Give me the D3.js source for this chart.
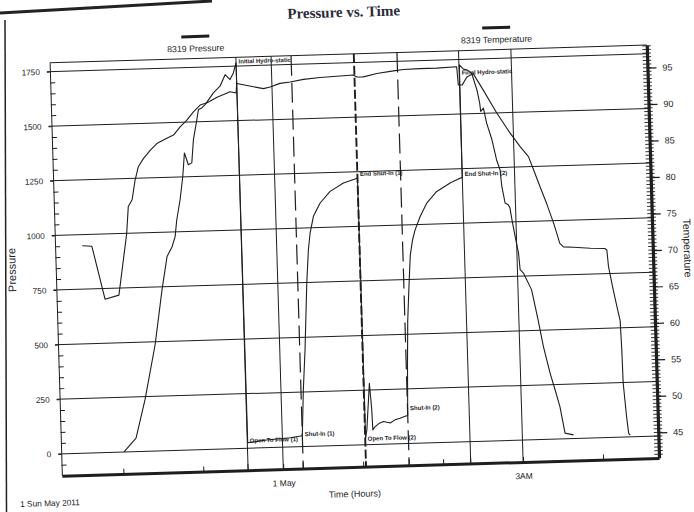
<!DOCTYPE html>
<html><head><meta charset="utf-8">
<script src="https://cdn.jsdelivr.net/npm/d3@7"></script>
<style>
html,body{margin:0;padding:0;background:#fff;}
svg{display:block;}
text{font-family:"Liberation Sans",Arial,sans-serif;fill:#1e1e1e;}
</style></head><body>
<svg id="chart" width="694" height="512"></svg>
<script>
// ---------- data (hours relative to midnight, 1 May 2011) ----------
const timeDomainHours = [-2.77, 4.70];
const pressureDomain = [-100, 1790];
const temperatureDomain = [41.5, 98.1];

const pressureHours = [-1.984,-1.829,-1.7025,-1.556,-1.449,-1.374,-1.3075,-1.266,-1.239,-1.19,-1.1475,-1.119,-1.074,-1.03,-1.001,-0.951,-0.9275,-0.885,-0.8425,-0.734,-0.649,-0.581,-0.521,-0.4775,-0.44,
  -0.435,-0.2,0.1,0.25,0.28,0.316,0.3625,0.395,0.4225,0.47,0.559,0.6875,0.8575,1.005,1.035,
  1.04,1.059,1.1075,1.1275,1.134,1.164,1.219,1.27,1.354,1.415,1.479,1.5325,1.575,
  1.59,1.61,1.635,1.666,1.7,1.735,1.804,1.891,2.021,2.191,2.295,2.345,
  2.35,2.40,2.45,2.50,2.56,2.59,2.60,2.635,2.67,2.73,2.78,2.82,2.836,2.871,2.91,2.93,2.95,2.984,3.02,3.034,3.074,3.17,3.24,3.296,3.37,3.426,3.48,3.535,3.64];
const pressureValues = [0,62,236,486,737,888,932,978,1055,1146,1253,1359,1305,1313,1419,1510,1556,1563,1578,1630,1660,1712,1689,1719,1765,
  25,35,42,50,260,443,748,900,976,1052,1112,1164,1200,1217,1222,
  30,68,281,159,67,82,97,104,96,110,117,124,128,
  350,560,700,860,930,975,1037,1097,1149,1186,1203,1210,
  1725,1705,1700,1686,1609,1548,1509,1524,1455,1378,1286,1240,1163,1087,1079,1063,1010,933,856,780,764,686,548,426,303,226,149,26,17];

const temperatureHours = [-2.43,-2.31,-2.165,-1.99,-1.87,-1.84,-1.79,-1.745,-1.70,-1.634,-1.546,-1.46,-1.334,-1.249,-1.1625,-1.076,-0.991,-0.905,-0.816,-0.69,-0.525,-0.45,
  -0.44,-0.356,-0.2325,-0.1075,-0.024,0.1025,0.229,0.396,0.605,0.815,1.0225,1.064,1.146,1.315,1.524,1.65,1.856,2.065,2.316,
  2.33,2.38,2.44,2.52,2.64,2.80,2.96,3.08,3.18,3.24,3.315,3.39,3.47,3.54,3.584,3.71,3.92,4.10,4.125,4.14,4.19,4.246,4.265,4.275,4.28,4.31,4.33,4.35];
const temperatureValues = [72.9,72.8,65.5,66.0,74.4,78.1,79.0,81.7,83.5,84.6,85.7,86.6,87.3,87.7,88.8,89.7,90.8,91.7,92.0,92.7,93.4,93.2,
  94.5,94.3,94.0,93.7,93.9,94.35,94.5,94.8,95.0,95.1,95.2,94.9,94.9,95.3,95.6,95.75,95.8,95.8,95.9,
  93.4,93.4,94.45,94.9,92.6,89.4,86.6,84.7,83.3,81.45,79.1,76.8,74.1,71.3,70.8,70.7,70.5,70.4,70.2,67.9,64.7,61.5,60.5,56.4,51.9,47.3,45.0,44.75];

const markerHours = [-0.44, 0.25, 1.035, 1.575, 2.345];
const labelTexts = ["Initial Hydro-static","Open To Flow (1)","Shut-In (1)","End Shut-In (1)","Open To Flow (2)","Shut-In (2)","End Shut-In (2)","Final Hydro-static"];
const labelHours = [-0.44,-0.44,0.25,1.035,1.035,1.575,2.345,2.345];
const labelPressures = [1771,35,57,1240,28,162,1225,1689];

const pressureTicks = [0,250,500,750,1000,1250,1500,1750];
const temperatureTicks = [45,50,55,60,65,70,75,80,85,90,95];
const hourTicks = [-2,-1,0,1,2,3,4];
const gridHours = [0,3];
const xLabelHours = [0,3];
const xLabelTexts = ["1 May","3AM"];
const seriesNames = ["8319 Pressure","8319 Temperature"];
const titleText = "Pressure vs. Time";
const xTitle = "Time (Hours)";
const leftTitle = "Pressure";
const rightTitle = "Temperature";
const footerText = "1 Sun May 2011";

// ---------- drawing ----------
const ink = "#1e1e1e";
const sans = "'Liberation Sans', Arial, sans-serif";
const svg = d3.select("#chart");
svg.append("rect").attr("width",694).attr("height",512).attr("fill","#fff");
// scanned paper edges
svg.append("line").attr("x1",0).attr("y1",13).attr("x2",212).attr("y2",1).attr("stroke","#222").attr("stroke-width",3);
svg.append("line").attr("x1",5).attr("y1",20).attr("x2",6.5).attr("y2",512).attr("stroke","#222").attr("stroke-width",1.5);

const g = svg.append("g").attr("transform","rotate(-1.7,350,260)");
const P = {left:55.6, right:653, top:54, bottom:467};
const base = new Date(2011,4,1,0,0,0);
const toDate = h => new Date(base.getTime() + h*3600000);

const x = d3.scaleTime().domain(timeDomainHours.map(toDate)).range([P.left,P.right]);
const yP = d3.scaleLinear().domain(pressureDomain).range([P.bottom,P.top]);
const yT = d3.scaleLinear().domain(temperatureDomain).range([P.bottom,P.top]);

// horizontal grid
g.append("g").selectAll("line").data(pressureTicks).join("line")
  .attr("x1",P.left-3).attr("x2",P.right).attr("y1",d=>yP(d)).attr("y2",d=>yP(d))
  .attr("stroke",ink).attr("stroke-width",1);
// vertical grid
g.append("g").selectAll("line").data(gridHours).join("line")
  .attr("x1",d=>x(toDate(d))).attr("x2",d=>x(toDate(d))).attr("y1",P.top).attr("y2",P.bottom)
  .attr("stroke",ink).attr("stroke-width",1);

// event markers
const markerDash = ["none","20,7","9,3","20,7","none"];
const markerWidth = [1,1.2,1.9,1.2,1];
g.append("g").selectAll("line").data(markerHours).join("line")
  .attr("x1",d=>x(toDate(d))).attr("x2",d=>x(toDate(d))).attr("y1",P.top).attr("y2",P.bottom)
  .attr("stroke",ink).attr("stroke-width",(d,i)=>markerWidth[i]).attr("stroke-dasharray",(d,i)=>markerDash[i]);

// top border
g.append("line").attr("x1",P.left).attr("x2",P.right).attr("y1",P.top).attr("y2",P.top).attr("stroke",ink).attr("stroke-width",1);

// left axis
const leftAxis = d3.axisLeft(yP).tickValues(pressureTicks).tickSizeInner(3).tickSizeOuter(0).tickPadding(7).tickFormat(d3.format("d"));
const la = g.append("g").attr("transform",`translate(${P.left},0)`).call(leftAxis);
la.select(".domain").attr("stroke",ink).attr("stroke-width",1);
la.selectAll(".tick line").attr("stroke",ink);
la.selectAll("text").attr("font-size",8.2).style("fill",ink).style("font-family",sans);
const minorP = d3.range(-50,1800,50).filter(v=>v%250!==0);
const lm = g.append("g").attr("transform",`translate(${P.left},0)`)
  .call(d3.axisLeft(yP).tickValues(minorP).tickSize(-5).tickFormat(""));
lm.select(".domain").remove();
lm.selectAll(".tick line").attr("stroke",ink);

// right axis
const rightAxis = d3.axisRight(yT).tickValues(temperatureTicks).tickSizeInner(9).tickSizeOuter(0).tickPadding(6);
const ra = g.append("g").attr("transform",`translate(${P.right},0)`).call(rightAxis);
ra.select(".domain").attr("stroke",ink).attr("stroke-width",3.2);
ra.selectAll(".tick line").attr("stroke",ink).attr("stroke-width",1.2);
ra.selectAll("text").attr("font-size",9).style("fill",ink).style("font-family",sans);
const minorT = d3.range(42,98.01,0.5);
g.append("g").selectAll("line").data(minorT).join("line")
  .attr("x1",P.right-4.5).attr("x2",P.right+4).attr("y1",d=>yT(d)).attr("y2",d=>yT(d))
  .attr("stroke",ink).attr("stroke-width",0.9);

// bottom axis
const bottomAxis = d3.axisBottom(x).tickValues(hourTicks.map(toDate)).tickSizeInner(-5).tickSizeOuter(0).tickPadding(11)
  .tickFormat(d=>{const h=(d-base)/3600000; const i=xLabelHours.indexOf(Math.round(h)); return i>=0?xLabelTexts[i]:"";});
const ba = g.append("g").attr("transform",`translate(0,${P.bottom})`).call(bottomAxis);
ba.select(".domain").attr("stroke",ink).attr("stroke-width",3);
ba.selectAll(".tick line").attr("stroke",ink);
ba.selectAll("text").attr("font-size",8.5).style("fill",ink).style("font-family",sans);
// bottom ticks at the events
g.append("g").selectAll("line").data(markerHours).join("line")
  .attr("x1",d=>x(toDate(d))).attr("x2",d=>x(toDate(d))).attr("y1",P.bottom-6).attr("y2",P.bottom)
  .attr("stroke",ink).attr("stroke-width",1);

// series
const lineP = d3.line().x((d,i)=>x(toDate(pressureHours[i]))).y(d=>yP(d));
const lineT = d3.line().x((d,i)=>x(toDate(temperatureHours[i]))).y(d=>yT(d));
g.append("path").attr("d",lineT(temperatureValues)).attr("fill","none").attr("stroke",ink).attr("stroke-width",1.1).attr("stroke-linejoin","round");
g.append("path").attr("d",lineP(pressureValues)).attr("fill","none").attr("stroke",ink).attr("stroke-width",1.1).attr("stroke-linejoin","round");

// event labels
g.append("g").selectAll("text").data(labelTexts).join("text")
  .attr("x",(d,i)=>x(toDate(labelHours[i]))+2.5).attr("y",(d,i)=>yP(labelPressures[i]))
  .attr("dy","0.35em").attr("font-size",6).attr("font-weight","bold").text(d=>d);

// titles
g.append("text").attr("x",351).attr("y",17).attr("text-anchor","middle")
  .style("font-family","'Liberation Serif','DejaVu Serif',serif").attr("font-weight","bold").attr("font-size",15)
  .style("fill","#2a2a38").text(titleText);
g.append("text").attr("x",348).attr("y",497).attr("text-anchor","middle").attr("font-size",9).text(xTitle);
g.append("text").attr("x",13).attr("y",497).attr("font-size",8.3).text(footerText);
g.append("text").attr("transform","translate(15.5,260) rotate(-90)").attr("text-anchor","middle").attr("font-size",11).text(leftTitle);
g.append("text").attr("transform","translate(684,258) rotate(90)").attr("text-anchor","middle").attr("font-size",10.5).text(rightTitle);

// legend
const legendX = [202, 503];
const lg = g.append("g").selectAll("g").data(seriesNames).join("g");
lg.append("line").attr("x1",(d,i)=>legendX[i]-14).attr("x2",(d,i)=>legendX[i]+14).attr("y1",32).attr("y2",32)
  .attr("stroke",ink).attr("stroke-width",3);
lg.append("text").attr("x",(d,i)=>legendX[i]).attr("y",47).attr("text-anchor","middle").attr("font-size",8.8).text(d=>d);
</script>
</body></html>
